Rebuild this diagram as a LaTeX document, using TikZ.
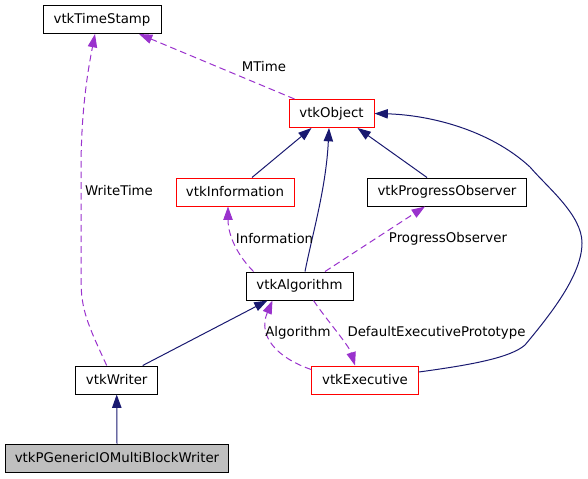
\documentclass[tikz,border=0pt]{standalone}
\usepackage{fontspec}
\setmainfont{DejaVu Sans}
\usetikzlibrary{arrows.meta,calc}
\definecolor{edgeblue}{HTML}{191970}
\definecolor{edgepurple}{HTML}{9A32CD}
\definecolor{boxred}{HTML}{FF0000}
\definecolor{mainfill}{HTML}{BFBFBF}
\begin{document}
\begin{tikzpicture}[x=0.75pt,y=-0.75pt,
  box/.style={draw=black, fill=white, line width=0.75pt, minimum height=21pt, inner sep=0pt, font=\fontsize{10}{12}\selectfont},
  redbox/.style={box, draw=boxred},
  lbl/.style={font=\fontsize{10}{12}\selectfont, inner sep=0pt},
  inh/.style={draw=edgeblue, line width=0.75pt, -{Triangle[length=10pt,width=7pt]}},
  use/.style={draw=edgepurple, line width=0.75pt, dash pattern=on 5pt off 3pt, -{Triangle[length=10pt,width=7pt]}}]
\useasboundingbox (0,0) rectangle (588,478);
\node[box, minimum width=88.5pt] (ts) at (102,19.5) {vtkTimeStamp};
\node[redbox, minimum width=63.75pt] (obj) at (331.5,113.5) {vtkObject};
\node[redbox, minimum width=88.5pt] (info) at (235,192) {vtkInformation};
\node[box, minimum width=119pt] (po) at (447,192) {vtkProgressObserver};
\node[box, minimum width=80.25pt] (alg) at (299.5,286) {vtkAlgorithm};
\node[box, minimum width=61.5pt] (wr) at (116.7,380) {vtkWriter};
\node[redbox, minimum width=80pt] (ex) at (365,380) {vtkExecutive};
\node[box, fill=mainfill, minimum width=167.8pt] (pg) at (117,458) {vtkPGenericIOMultiBlockWriter};

% MTime
\draw[use] ($(obj.north west)+(6,0)$) -- ($(ts.south)+(37,0)$);
\node[lbl] (lmt) at (264,67) {MTime};
% WriteTime
\draw[use] ($(wr.north)+(-10,0)$) .. controls (88,325) and (81,310) .. (81,280) -- (81,170) .. controls (81,110) and (88,70) .. ($(ts.south)+(-7,0)$);
\node[lbl] (lwt) at (119,191) {WriteTime};
% inheritance to vtkObject
\draw[inh] ($(info.north)+(17,0)$) -- ($(obj.south)+(-20,0)$);
\draw[inh] ($(alg.north)+(5.5,0)$) .. controls +(8,-40) and +(-3,60) .. ($(obj.south)+(-2.5,0)$);
\draw[inh] ($(po.north)+(-20,0)$) -- ($(obj.south)+(26,0)$);
\draw[inh] ($(ex.east)+(0,-8)$) .. controls (470,365) and (510,358) .. (525,345) .. controls (550,315) and (582,275) .. (582,243) .. controls (582,215) and (548,188) .. (530,167) .. controls (490,130) and (430,115) .. (obj.east);
% Information
\draw[use] ($(alg.north west)+(8,0)$) .. controls +(-15,-15) and +(0,30) .. ($(info.south)+(-7,0)$);
\node[lbl] (linf) at (274.5,239) {Information};
% ProgressObserver
\draw[use] ($(alg.north)+(25.5,0)$) -- ($(po.south)+(-22,0)$);
\node[lbl] (lpo) at (448,239) {ProgressObserver};
% vtkWriter -> vtkAlgorithm
\draw[inh] ($(wr.north)+(26,0)$) -- ($(alg.south)+(-32,0)$);
% PGeneric -> vtkWriter
\draw[inh] (pg.north) -- (wr.south);
% Algorithm
\draw[use] ($(ex.north west)+(0,4)$) .. controls +(-35,-12) and +(-15,35) .. ($(alg.south)+(-27,0)$);
\node[lbl] (lalg) at (298,333) {Algorithm};
% DefaultExecutivePrototype
\draw[use] ($(alg.south)+(14,0)$) .. controls +(12,18) and +(-6,-20) .. ($(ex.north)+(-10,0)$);
\node[lbl] (ldep) at (436.5,333) {DefaultExecutivePrototype};
\end{tikzpicture}
\end{document}
